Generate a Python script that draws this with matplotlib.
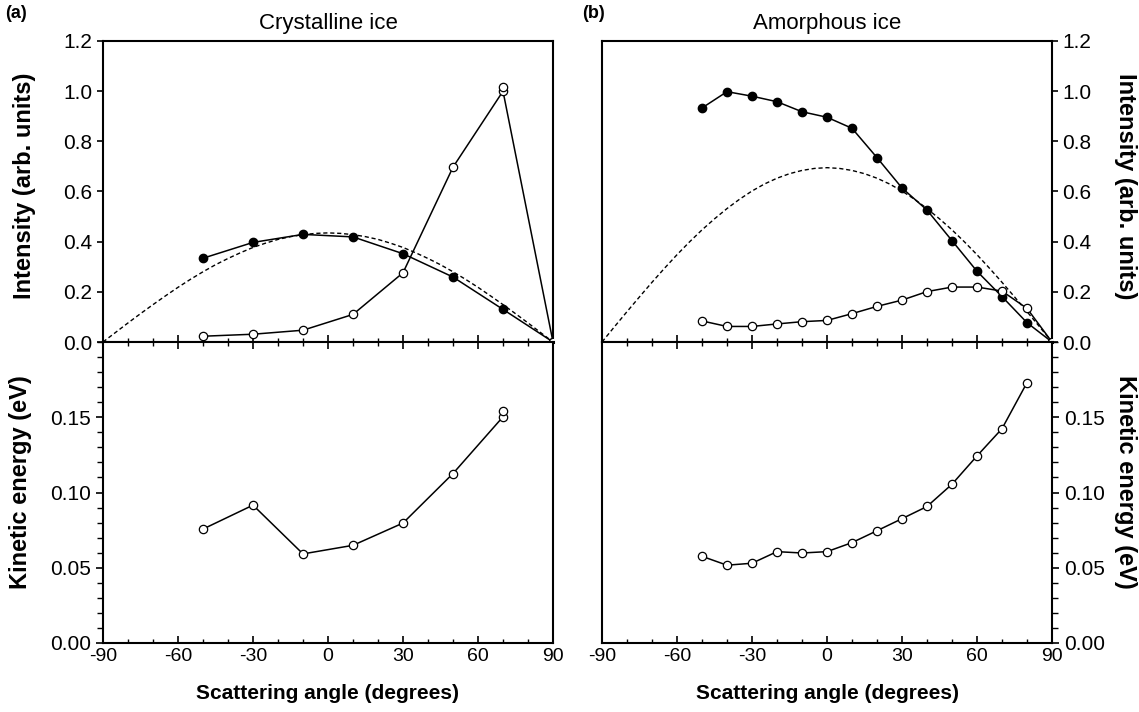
import matplotlib
matplotlib.use("Agg")
from matplotlib import pyplot as plt
from matplotlib.ticker import MultipleLocator, FixedLocator, FormatStrFormatter

plt.rcParams['font.family'] = ['Liberation Sans', 'DejaVu Sans']
plt.rcParams['axes.unicode_minus'] = False

# --- data ---
ang_a = [-50, -30, -10, 10, 30, 50, 70, 90]
int_a_closed = [0.334, 0.397, 0.429, 0.419, 0.352, 0.259, 0.130, 0.0]
int_a_open = [0.023, 0.031, 0.047, 0.110, 0.276, 0.697, 1.000, 0.0]
int_a_extra = (70, 1.017)
ke_ang_a = [-50, -30, -10, 10, 30, 50, 70]
ke_a = [0.0757, 0.0916, 0.0592, 0.0649, 0.0797, 0.1126, 0.1503]
ke_a_extra = (70, 0.1543)

ang_b = [-50, -40, -30, -20, -10, 0, 10, 20, 30, 40, 50, 60, 70, 80, 90]
int_b_closed = [0.933, 0.998, 0.980, 0.958, 0.918, 0.896, 0.852, 0.735,
                0.614, 0.526, 0.404, 0.282, 0.181, 0.077, 0.0]
int_b_open = [0.084, 0.062, 0.062, 0.072, 0.081, 0.086, 0.113, 0.142,
              0.167, 0.201, 0.219, 0.219, 0.203, 0.134, 0.0]
ke_ang_b = [-50, -40, -30, -20, -10, 0, 10, 20, 30, 40, 50, 60, 70, 80]
ke_b = [0.0576, 0.0517, 0.0530, 0.0607, 0.0598, 0.0607, 0.0667, 0.0746,
        0.0826, 0.0907, 0.1055, 0.1243, 0.1424, 0.1730]

# dashed reference curves, read every 5 degrees
ang_ref = [-90, -85, -80, -75, -70, -65, -60, -55, -50, -45, -40, -35, -30,
           -25, -20, -15, -10, -5, 0, 5, 10, 15, 20, 25, 30, 35, 40, 45, 50,
           55, 60, 65, 70, 75, 80, 85, 90]
ref_a = [0.0, 0.038, 0.076, 0.113, 0.149, 0.184, 0.218, 0.250, 0.280, 0.308,
         0.333, 0.356, 0.377, 0.394, 0.409, 0.420, 0.428, 0.433, 0.435,
         0.433, 0.428, 0.420, 0.409, 0.394, 0.377, 0.356, 0.333, 0.308,
         0.280, 0.250, 0.218, 0.184, 0.149, 0.113, 0.076, 0.038, 0.0]
ref_b = [0.0, 0.061, 0.121, 0.180, 0.238, 0.294, 0.348, 0.399, 0.447, 0.491,
         0.532, 0.569, 0.602, 0.630, 0.653, 0.671, 0.684, 0.692, 0.695,
         0.692, 0.684, 0.671, 0.653, 0.630, 0.602, 0.569, 0.532, 0.491,
         0.447, 0.399, 0.348, 0.294, 0.238, 0.180, 0.121, 0.061, 0.0]

fig = plt.figure(figsize=(11.39, 7.12), dpi=100)

W = 450 / 1139
H = 301 / 712
ax_a = fig.add_axes([103 / 1139, 1 - 342 / 712, W, H])
ax_c = fig.add_axes([103 / 1139, 1 - 643 / 712, W, H])
ax_b = fig.add_axes([602 / 1139, 1 - 342 / 712, W, H])
ax_d = fig.add_axes([602 / 1139, 1 - 643 / 712, W, H])

closed = dict(color='k', lw=1.1, marker='o', ms=6, mfc='k', mec='k', zorder=3)
opened = dict(color='k', lw=1.1, marker='o', ms=6, mfc='white', mec='k', mew=0.9, zorder=4)
lbl = dict(fontsize=17, fontweight='bold', ha='center', va='center')

for ax in (ax_a, ax_b, ax_c, ax_d):
    ax.set_xlim(-90, 90)
    ax.xaxis.set_major_locator(MultipleLocator(30))
    ax.xaxis.set_minor_locator(MultipleLocator(10))
    ax.tick_params(axis='x', which='major', direction='in', length=5, width=1.2, labelsize=14)
    ax.tick_params(axis='x', which='minor', direction='in', length=3, width=1)
    for s in ax.spines.values():
        s.set_linewidth(1.5)

# top panels
for ax, ref, closed_y, open_y, ang in ((ax_a, ref_a, int_a_closed, int_a_open, ang_a),
                                      (ax_b, ref_b, int_b_closed, int_b_open, ang_b)):
    ax.plot(ang_ref, ref, color='k', lw=1.0, ls=(0, (3, 2)), zorder=2)
    ax.plot(ang, closed_y, **closed)
    ax.plot(ang, open_y, **opened)
    ax.set_ylim(0, 1.2)
    ax.yaxis.set_major_locator(MultipleLocator(0.2))
    ax.yaxis.set_major_formatter(FormatStrFormatter('%.1f'))
    ax.tick_params(axis='x', labelbottom=False, top=False)
    ax.tick_params(axis='y', which='major', direction='out', length=4, width=1.2, labelsize=15)
    ax.spines['bottom'].set_linewidth(2.2)

ax_a.plot([int_a_extra[0]], [int_a_extra[1]], ls='none',
          **{k: v for k, v in opened.items() if k != 'lw'})

# bottom panels
ax_c.plot(ke_ang_a, ke_a, **opened)
ax_c.plot([ke_a_extra[0]], [ke_a_extra[1]], ls='none',
          **{k: v for k, v in opened.items() if k != 'lw'})
ax_d.plot(ke_ang_b, ke_b, **opened)
for ax in (ax_c, ax_d):
    ax.set_ylim(0, 0.2)
    ax.yaxis.set_major_locator(FixedLocator([0.0, 0.05, 0.10, 0.15]))
    ax.yaxis.set_minor_locator(MultipleLocator(0.01))
    ax.yaxis.set_major_formatter(FormatStrFormatter('%.2f'))
    ax.tick_params(axis='x', top=True, which='both')
    ax.tick_params(axis='y', which='major', direction='out', length=5, width=1.2, labelsize=15)
    ax.tick_params(axis='y', which='minor', direction='out', length=4, width=1)
    ax.set_xlabel('Scattering angle (degrees)', labelpad=14, fontsize=15, fontweight='bold')

for ax in (ax_a, ax_c):
    ax.tick_params(axis='y', which='both', left=True, right=False)

for ax in (ax_b, ax_d):
    ax.yaxis.tick_right()
    ax.tick_params(axis='y', which='both', left=False, right=True)

# y axis titles placed in figure pixels
fig.text(25 / 1139, 1 - 186 / 712, 'Intensity (arb. units)', rotation=90, **lbl)
fig.text(21 / 1139, 1 - 482 / 712, 'Kinetic energy (eV)', rotation=90, **lbl)
fig.text(1125 / 1139, 1 - 186 / 712, 'Intensity (arb. units)', rotation=270, **lbl)
fig.text(1125 / 1139, 1 - 482 / 712, 'Kinetic energy (eV)', rotation=270, **lbl)

ax_a.set_title('Crystalline ice', fontsize=16, pad=9)
ax_b.set_title('Amorphous ice', fontsize=16, pad=9)
fig.text(5 / 1139, 1 - 14 / 712, '(a)', fontsize=13, fontweight='bold', va='center')
fig.text(582 / 1139, 1 - 14 / 712, '(b)', fontsize=13, fontweight='bold', va='center')

fig.savefig('out.png', dpi=100)
